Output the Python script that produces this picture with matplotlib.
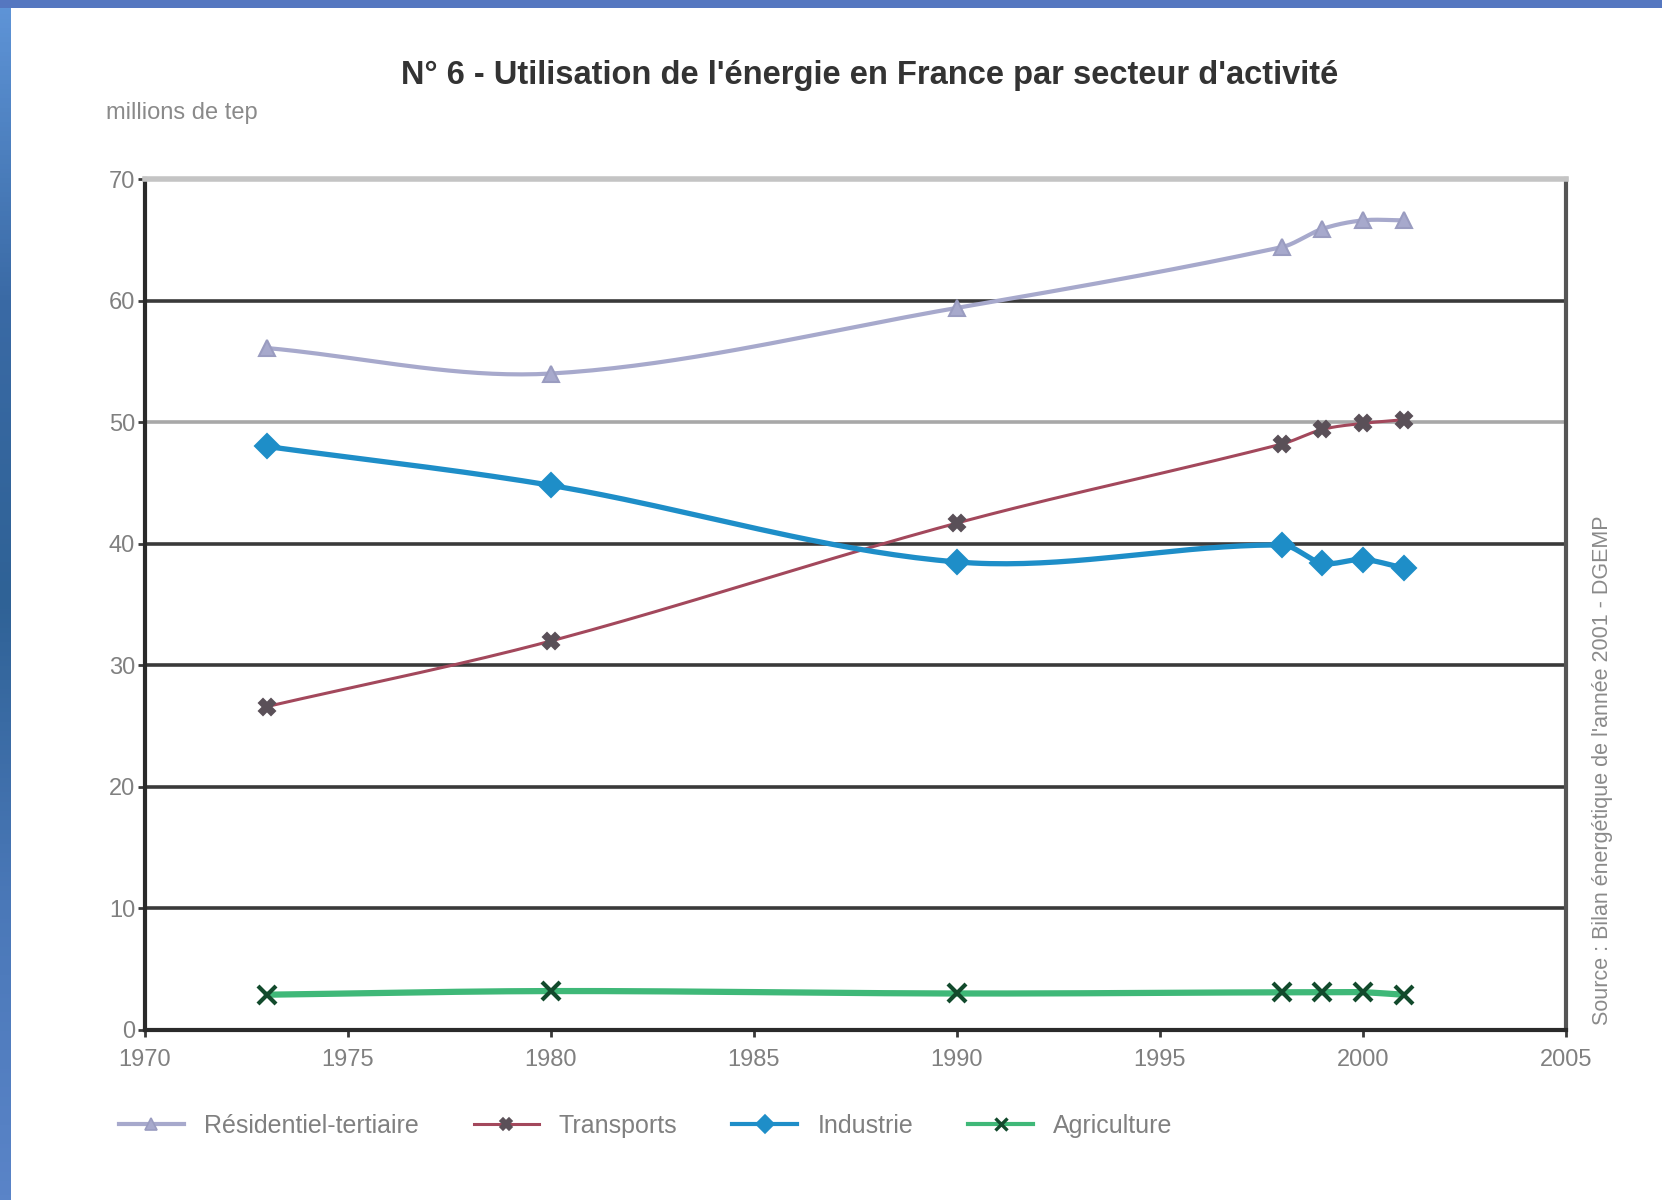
import numpy as np
import matplotlib
matplotlib.use("Agg")
import matplotlib.pyplot as plt
from matplotlib.lines import Line2D

plt.rcParams['font.family'] = ['Liberation Sans', 'DejaVu Sans']

# données (millions de tep)
annees = [1973, 1980, 1990, 1998, 1999, 2000, 2001]
residentiel = [56.1, 54.0, 59.4, 64.4, 65.9, 66.6, 66.6]
transports = [26.6, 32.0, 41.7, 48.2, 49.4, 49.9, 50.2]
industrie = [48.0, 44.8, 38.5, 39.9, 38.4, 38.7, 38.0]
agriculture = [2.9, 3.2, 3.0, 3.1, 3.1, 3.1, 2.9]

noms = ["Résidentiel-tertiaire", "Transports", "Industrie", "Agriculture"]
titre = "N° 6 - Utilisation de l'énergie en France par secteur d'activité"
source = "Source : Bilan énergétique de l'année 2001 - DGEMP"


def lisser(x, y, n=40):
    # courbe lissée (hermite cubique, pentes centrées)
    x = np.asarray(x, float)
    y = np.asarray(y, float)
    m = np.empty_like(y)
    m[0] = (y[1] - y[0]) / (x[1] - x[0])
    m[-1] = (y[-1] - y[-2]) / (x[-1] - x[-2])
    m[1:-1] = (y[2:] - y[:-2]) / (x[2:] - x[:-2])
    xs, ys = [x[0]], [y[0]]
    t = np.linspace(0, 1, n)[1:]
    for i in range(len(x) - 1):
        h = x[i + 1] - x[i]
        h00 = 2 * t ** 3 - 3 * t ** 2 + 1
        h10 = t ** 3 - 2 * t ** 2 + t
        h01 = -2 * t ** 3 + 3 * t ** 2
        h11 = t ** 3 - t ** 2
        xs.extend(x[i] + t * h)
        ys.extend(h00 * y[i] + h10 * h * m[i] + h01 * y[i + 1] + h11 * h * m[i + 1])
    return np.array(xs), np.array(ys)


fig = plt.figure(figsize=(16.62, 12), dpi=100)
fig.patch.set_facecolor('white')

# bandeau bleu en haut et à gauche
bande = fig.add_axes([0, 0, 0.0062, 1])
grad = np.linspace(0, 1, 256)[:, None]
cmap = matplotlib.colors.LinearSegmentedColormap.from_list(
    'bleu', ['#5f95d8', '#3a6aa5', '#2f6296', '#4a78b8', '#5a84c8'])
bande.imshow(grad, aspect='auto', cmap=cmap, extent=[0, 1, 0, 1])
bande.axis('off')
haut = fig.add_axes([0, 0.9935, 1, 0.0065])
haut.axis('off')
haut.add_patch(plt.Rectangle((0, 0), 1, 1, color='#5577c0', transform=haut.transAxes))

ax = fig.add_axes([0.0872, 0.1417, 0.8550, 0.7091])
ax.set_xlim(1970, 2005)
ax.set_ylim(0, 70)

# lignes horizontales
for v in range(10, 70, 10):
    c = '#a8a8a8' if v == 50 else '#3a3a3a'
    ax.axhline(v, color=c, lw=2.6, zorder=1)
ax.spines['top'].set_color('#c4c4c4')
ax.spines['top'].set_linewidth(4)
ax.spines['left'].set_color('#2a2a2a')
ax.spines['left'].set_linewidth(3)
ax.spines['bottom'].set_color('#2a2a2a')
ax.spines['bottom'].set_linewidth(3)
ax.spines['right'].set_color('#555555')
ax.spines['right'].set_linewidth(3)

ax.set_xticks(range(1970, 2006, 5))
ax.set_yticks(range(0, 71, 10))
ax.tick_params(axis='both', colors='#3a3a3a', labelcolor='#808080',
               labelsize=17, length=5, width=2)
ax.tick_params(axis='x', pad=9)
ax.tick_params(axis='y', pad=2)

styles = [
    dict(color='#a7a9cc', lw=3.0, marker='^', ms=11, mfc='#a7a9cc', mec='#9a9cc0'),
    dict(color='#a3485c', lw=2.2, marker='X', ms=12, mfc='#5a5058', mec='#5a5058'),
    dict(color='#1e8ec8', lw=3.8, marker='D', ms=12, mfc='#1e8ec8', mec='#1e8ec8'),
    dict(color='#3fb878', lw=4.5, marker='x', ms=13, mfc='#124a2c', mec='#124a2c', mew=3),
]
series = [residentiel, transports, industrie, agriculture]

for vals, st, nom in zip(series, styles, noms):
    xs, ys = lisser(annees, vals)
    ax.plot(xs, ys, color=st['color'], lw=st['lw'], zorder=3, solid_capstyle='round')
    ax.plot(annees, vals, ls='none', marker=st['marker'], ms=st['ms'],
            mfc=st['mfc'], mec=st['mec'], mew=st.get('mew', 1.5), zorder=4)

fig.text(0.523, 0.937, titre, ha='center', va='center', fontsize=23.5,
         fontweight='bold', color='#333333')
fig.text(0.064, 0.906, "millions de tep", ha='left', va='center',
         fontsize=17, color='#8a8a8a')
fig.text(0.9645, 0.358, source, rotation=90, ha='center', va='center',
         fontsize=15.5, color='#8a8a8a')

poignees = []
for st, nom in zip(styles, noms):
    poignees.append(Line2D([0], [0], color=st['color'], lw=min(st['lw'], 3),
                           marker=st['marker'], ms=9, mfc=st['mfc'],
                           mec=st['mec'], mew=st.get('mew', 1.5) * 0.8, label=nom))
leg = fig.legend(handles=poignees, loc='center left', ncol=4,
                 bbox_to_anchor=(0.058, 0.062), frameon=False, fontsize=18,
                 handlelength=2.6, columnspacing=2.2, handletextpad=0.8)
for t in leg.get_texts():
    t.set_color('#808080')

fig.savefig('out.png', dpi=100)
